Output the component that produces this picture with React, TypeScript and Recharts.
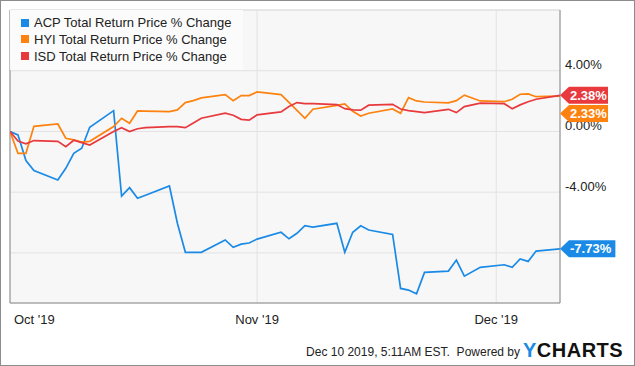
import { LineChart, Line, XAxis, YAxis, CartesianGrid, ReferenceLine, LabelList } from 'recharts';

const dates = [
  '2019-10-01', '2019-10-02', '2019-10-03', '2019-10-04', '2019-10-07', '2019-10-08', '2019-10-09',
  '2019-10-10', '2019-10-11', '2019-10-14', '2019-10-15', '2019-10-16', '2019-10-17', '2019-10-18',
  '2019-10-21', '2019-10-22', '2019-10-23', '2019-10-24', '2019-10-25', '2019-10-28', '2019-10-29',
  '2019-10-30', '2019-10-31', '2019-11-01', '2019-11-04', '2019-11-05', '2019-11-06', '2019-11-07',
  '2019-11-08', '2019-11-11', '2019-11-12', '2019-11-13', '2019-11-14', '2019-11-15', '2019-11-18',
  '2019-11-19', '2019-11-20', '2019-11-21', '2019-11-22', '2019-11-25', '2019-11-26', '2019-11-27',
  '2019-11-29', '2019-12-02', '2019-12-03', '2019-12-04', '2019-12-05', '2019-12-06', '2019-12-09',
];

const acp = [
  0, -0.23, -1.92, -2.58, -3.2, -2.43, -1.44, -1.11, 0.28, 1.37, -4.25, -3.7, -4.4, -4.2,
  -3.59, -6.05, -7.96, -7.96, -7.96, -7.15, -7.63, -7.42, -7.35, -7.09, -6.64, -7.07, -6.71, -6.21,
  -6.3, -6.05, -7.96, -6.64, -6.21, -6.49, -6.78, -10.34, -10.45, -10.69, -9.28, -9.2, -8.47, -9.53,
  -8.95, -8.78, -8.95, -8.4, -8.56, -7.88, -7.73,
];

const hyi = [
  0, -1.44, -1.44, 0.34, 0.49, -0.45, -0.56, -0.7, -0.65, 0.32, 0.87, 0.54, 1.35, 1.34,
  1.31, 1.42, 1.9, 2.03, 2.21, 2.43, 2.03, 2.36, 2.36, 2.6, 2.43, 1.92, 1.39, 0.87,
  1.46, 1.72, 1.81, 1.33, 1.02, 1.2, 1.48, 1.2, 2.23, 2.01, 1.94, 1.88, 2.03, 2.39,
  2.01, 1.96, 2.12, 2.45, 2.47, 2.29, 2.33,
];

const isd = [
  0, -0.63, -0.82, -0.6, -0.65, -1.0, -0.58, -0.74, -0.89, -0.01, 0.25, -0.01, 0.18, 0.25,
  0.32, 0.32, 0.25, 0.56, 0.87, 1.2, 1.07, 0.8, 0.74, 1.09, 1.29, 1.64, 1.9, 1.83,
  1.83, 1.77, 1.5, 1.42, 1.4, 1.73, 1.79, 1.48, 1.37, 1.3, 1.24, 1.46, 1.24, 1.64,
  1.86, 1.83, 1.5, 1.75, 1.96, 2.12, 2.38,
];

const tickDates = ['2019-10-01', '2019-11-01', '2019-12-01'];
const tickLabels = ["Oct '19", "Nov '19", "Dec '19"];
const yTicks = [-8, -4, 0, 4];
// the -8% label sits under the ACP end badge in the original, so it is not drawn
const yLabelled = [-4, 0, 4];

const seriesNames = [
  'ACP Total Return Price % Change',
  'HYI Total Return Price % Change',
  'ISD Total Return Price % Change',
];
const colors = ['#1a8ae6', '#fd820f', '#e8393d'];

const DAY = 86400000;
const start = Date.parse(dates[0]);
const toT = (d: string) => (Date.parse(d) - start) / DAY;

const data = dates.map((d, i) => ({ t: toT(d), acp: acp[i], hyi: hyi[i], isd: isd[i] }));
const xTicks = tickDates.map(toT);

const FONT = '"Liberation Sans", Arial, sans-serif';

function XTick(props: any) {
  const { x, y, payload, index } = props;
  const first = index === 0;
  return (
    <text x={first ? x + 4 : x} y={y + 14} dy="0.35em" textAnchor={first ? 'start' : 'middle'}
      fontSize={13} fill="#222" fontFamily={FONT}>
      {tickLabels[xTicks.indexOf(payload.value)]}
    </text>
  );
}

function YTick(props: any) {
  const { x, y, payload } = props;
  if (!yLabelled.includes(payload.value)) return null;
  return (
    <text x={x} y={y - 6} dy="0.35em" textAnchor="start" fontSize={13} fill="#222" fontFamily={FONT}>
      {payload.value.toFixed(2)}%
    </text>
  );
}

function makeBadge(color: string, shift: number) {
  return (props: any) => {
    const { x, y, value, index } = props;
    if (index !== dates.length - 1) return null;
    const label = `${Number(value).toFixed(2)}%`;
    const w = 11 + label.length * 7.4;
    const cy = y + shift;
    const h = 8.5;
    return (
      <g>
        <path d={`M${x},${cy} L${x + 9},${cy - h} L${x + w},${cy - h} L${x + w},${cy + h} L${x + 9},${cy + h} Z`}
          fill={color} />
        <text x={x + 10} y={cy} dy="0.35em" fill="#fff" fontSize={13} fontWeight="bold" fontFamily={FONT}>
          {label}
        </text>
      </g>
    );
  };
}

export default function App() {
  return (
    <div style={{ position: 'absolute', left: 0, top: 0, width: 635, height: 366, background: '#fff', fontFamily: FONT }}>
      <LineChart width={635} height={366} data={data} margin={{ top: 10, right: 0, bottom: 33, left: 10 }}>
        <CartesianGrid fill="#f7f7f7" stroke="#e2e2e2" strokeDasharray="" />
        <XAxis type="number" dataKey="t" domain={[0, 69]} ticks={xTicks} allowDataOverflow
          height={30} axisLine={{ stroke: '#888' }} tickLine={false} tickSize={0} tick={<XTick />} />
        <YAxis orientation="right" type="number" domain={[-11.3, 8]} ticks={yTicks} allowDataOverflow
          width={75} axisLine={{ stroke: '#888' }} tickLine={false} tickSize={0} tickMargin={5} tick={<YTick />} />
        <ReferenceLine x={0} stroke="#888" />
        <ReferenceLine y={8} stroke="#dedede" />
        <Line dataKey="acp" stroke={colors[0]} strokeWidth={1.7} dot={false} isAnimationActive={false}>
          <LabelList dataKey="acp" content={makeBadge(colors[0], 0)} />
        </Line>
        <Line dataKey="hyi" stroke={colors[1]} strokeWidth={1.7} dot={false} isAnimationActive={false}>
          <LabelList dataKey="hyi" content={makeBadge(colors[1], 17.5)} />
        </Line>
        <Line dataKey="isd" stroke={colors[2]} strokeWidth={1.7} dot={false} isAnimationActive={false}>
          <LabelList dataKey="isd" content={makeBadge(colors[2], 0)} />
        </Line>
      </LineChart>

      <div style={{ position: 'absolute', left: 10, top: 10, width: 233, height: 60, background: 'rgba(251,251,251,0.95)',
        boxSizing: 'border-box', paddingTop: 4.3 }}>
        {seriesNames.map((name, i) => (
          <div key={name} style={{ display: 'flex', alignItems: 'center', height: 16.7, fontSize: 13, color: '#222' }}>
            <span style={{ display: 'inline-block', width: 8, height: 8, background: colors[i], marginLeft: 11, marginRight: 5 }} />
            <span>{name}</span>
          </div>
        ))}
      </div>

      <div style={{ position: 'absolute', left: 0, top: 345, width: 520, textAlign: 'right', fontSize: 12,
        lineHeight: '14px', color: '#222', whiteSpace: 'pre' }}>
        {'Dec 10 2019, 5:11AM EST.  Powered by'}
      </div>
      <div style={{ position: 'absolute', left: 523, top: 340, fontSize: 20, lineHeight: '20px', fontWeight: 'bold',
        letterSpacing: 0.5, color: '#111' }}>
        <span style={{ color: colors[0] }}>Y</span>CHARTS
      </div>

      <div style={{ position: 'absolute', left: 0, top: 0, width: 635, height: 366, border: '1px solid #8c8c8c',
        boxSizing: 'border-box', pointerEvents: 'none' }} />
    </div>
  );
}
